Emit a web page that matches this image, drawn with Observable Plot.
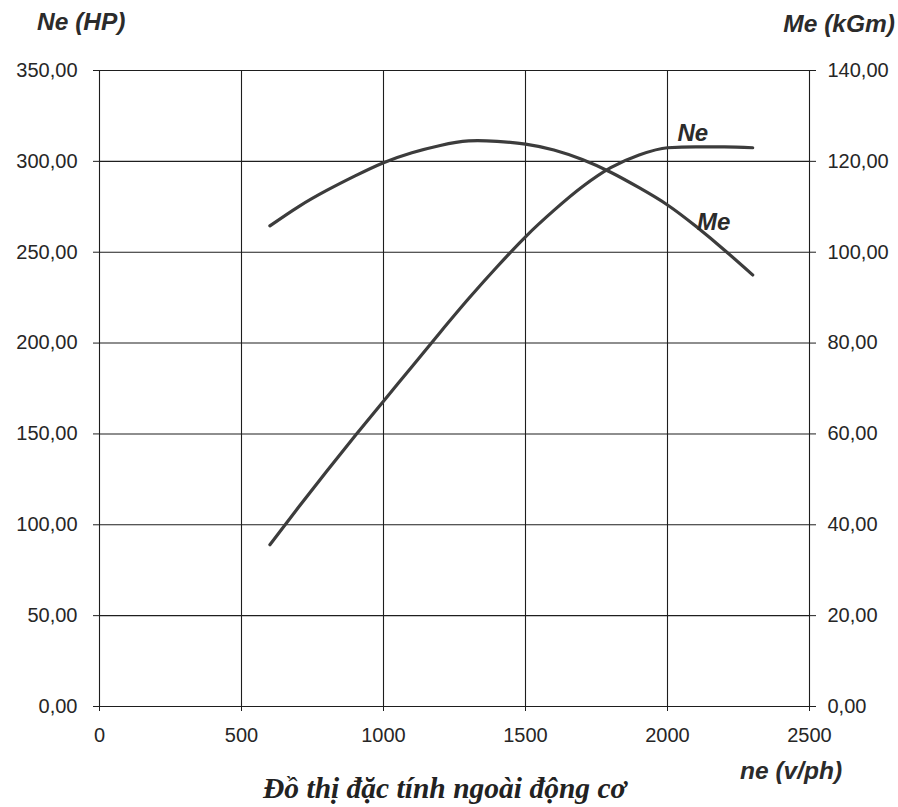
<!DOCTYPE html>
<html>
<head>
<meta charset="utf-8">
<script src="https://cdn.jsdelivr.net/npm/d3@7"></script>
<script src="https://cdn.jsdelivr.net/npm/@observablehq/plot@0.6"></script>
<style>
  html, body { margin: 0; padding: 0; background: #fff; }
  #wrap { position: relative; width: 898px; height: 807px; overflow: hidden; }
  .ttl { position: absolute; font-family: "Liberation Sans", Arial, sans-serif; font-weight: bold; font-style: italic; line-height: 1; color: #2b2b2b; white-space: nowrap; font-size: 24.5px; }
  #cap { position: absolute; font-family: "Liberation Serif", "Times New Roman", serif; font-weight: bold; font-style: italic; font-size: 29.5px; line-height: 1; color: #222; white-space: nowrap; }
</style>
</head>
<body>
<div id="wrap">
  <div id="chart"></div>
  <div class="ttl" style="left:37px; top:10px;">Ne (HP)</div>
  <div class="ttl" style="right:3px; top:12px;">Me (kGm)</div>
  <div class="ttl" style="left:740px; top:759px;">ne (v/ph)</div>
  <div id="cap" style="left:263px; top:774px;">Đồ thị đặc tính ngoài động cơ</div>
</div>
<script>
// Engine speed (v/ph)
const rpm = [600, 700, 800, 900, 1000, 1100, 1200, 1300, 1400, 1500, 1600, 1700, 1800, 1900, 2000, 2100, 2200, 2300];
// Power Ne (HP) - left axis
const neHP = [89, 109.5, 129.5, 149, 168, 187, 206, 224.5, 242, 258.5, 273, 286, 296.5, 303.5, 307.5, 308, 308, 307.5];
// Torque Me (kGm) - right axis
const meKGm = [105.8, 110, 113.6, 116.8, 119.7, 121.9, 123.5, 124.5, 124.4, 123.8, 122.5, 120.4, 117.6, 114.2, 110.4, 105.7, 100.5, 95];

const xTicks = [0, 500, 1000, 1500, 2000, 2500];
const yTicksHP = [0, 50, 100, 150, 200, 250, 300, 350];
const yTicksKGm = [0, 20, 40, 60, 80, 100, 120, 140];

const hpMax = 350, kgmMax = 140;
const rows = rpm.map((n, i) => ({n, ne: neHP[i], me: meKGm[i] * hpMax / kgmMax}));
const fmt = v => v.toFixed(2).replace(".", ",");

const neLabel = [{n: rpm[14], v: neHP[14], t: "Ne"}];
const meLabel = [{n: rpm[15], v: meKGm[15] * hpMax / kgmMax, t: "Me"}];

const lineColor = "#3c3c3c";
const gridColor = "#1e1e1e";

const chart = Plot.plot({
  width: 898,
  height: 760,
  marginLeft: 99,
  marginRight: 89,
  marginTop: 70,
  marginBottom: 54,
  style: {fontFamily: "'Liberation Sans', Arial, sans-serif", fontSize: "20px", color: "#262626", background: "#fff"},
  x: {domain: [0, 2500]},
  y: {domain: [0, 350]},
  marks: [
    Plot.ruleX(xTicks, {stroke: gridColor, strokeWidth: 1.1}),
    Plot.ruleY(yTicksHP, {stroke: gridColor, strokeWidth: 1.1}),
    Plot.axisX(xTicks, {tickSize: 5, tickPadding: 16, fontSize: 20, label: null, tickFormat: d => String(d), stroke: gridColor}),
    Plot.axisY(yTicksHP, {anchor: "left", tickSize: 6, tickPadding: 16, fontSize: 20, label: null, tickFormat: fmt, stroke: gridColor}),
    Plot.axisY(yTicksHP, {anchor: "right", tickSize: 6, tickPadding: 12, fontSize: 20, label: null,
      tickFormat: d => fmt(yTicksKGm[yTicksHP.indexOf(d)]), stroke: gridColor}),
    Plot.line(rows, {x: "n", y: "ne", stroke: lineColor, strokeWidth: 3.2, curve: "monotone-x"}),
    Plot.line(rows, {x: "n", y: "me", stroke: lineColor, strokeWidth: 3.2, curve: "natural"}),
    Plot.text(neLabel, {x: "n", y: "v", text: "t", dx: 10, dy: -14, textAnchor: "start", fontSize: 24, fontWeight: "bold", fontStyle: "italic", fill: "#2b2b2b"}),
    Plot.text(meLabel, {x: "n", y: "v", text: "t", dx: 1, dy: -4, textAnchor: "start", fontSize: 24, fontWeight: "bold", fontStyle: "italic", fill: "#2b2b2b"})
  ]
});
document.getElementById("chart").appendChild(chart);
</script>
</body>
</html>
